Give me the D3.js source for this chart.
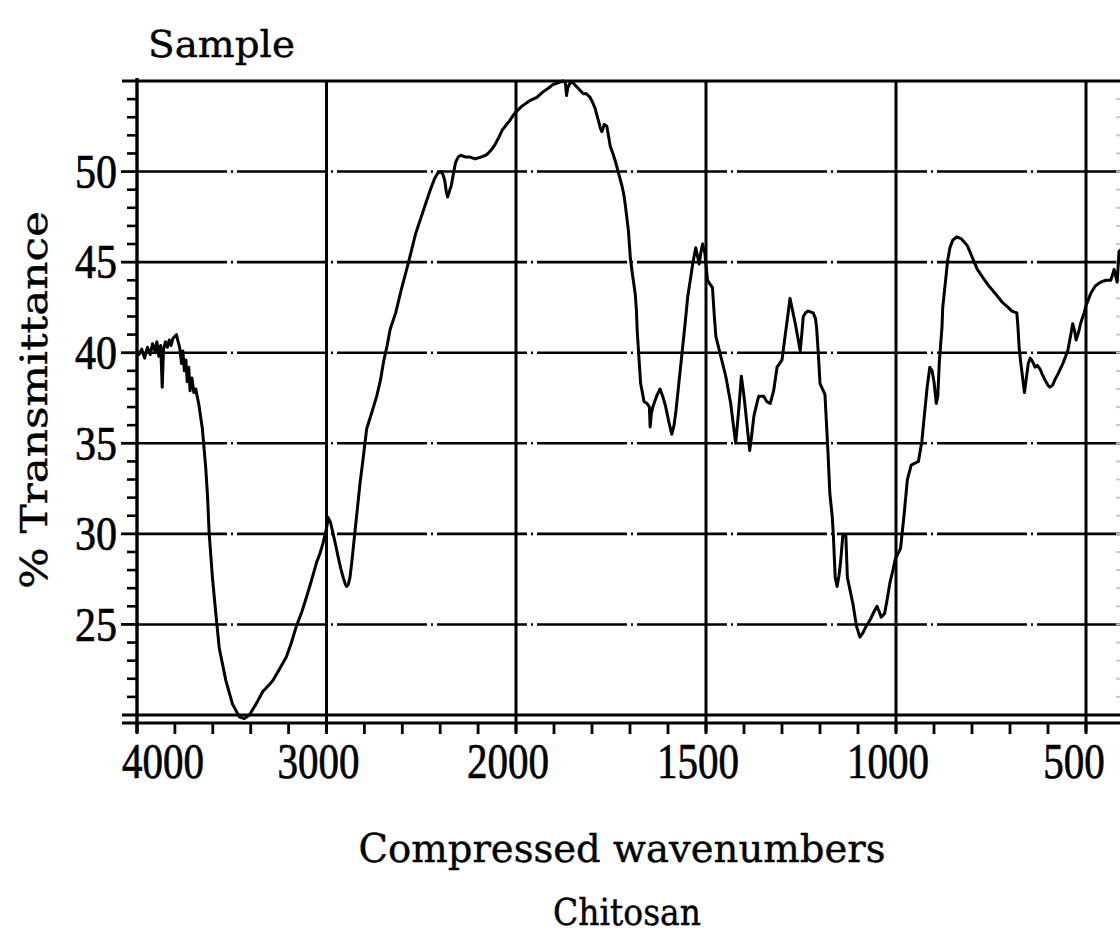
<!DOCTYPE html>
<html>
<head>
<meta charset="utf-8">
<script src="https://cdn.jsdelivr.net/npm/d3@7"></script>
<style>
  html, body { margin: 0; padding: 0; background: #fff; }
  svg { display: block; }
</style>
</head>
<body>
<div id="chart"></div>
<script>
// spectrum (cm-1, % transmittance)
const wavenumbers = [
  4000, 3990, 3975, 3960, 3945, 3930, 3918, 3905, 3895, 3885, 3875, 3867, 3860, 3850, 3840, 3830,
  3820, 3810, 3800, 3792, 3785, 3775, 3765, 3758, 3750, 3742, 3735, 3727, 3720, 3710, 3700, 3690,
  3673, 3655, 3637, 3628, 3619, 3602, 3584, 3566, 3531, 3496, 3460, 3434, 3407, 3372, 3336, 3300,
  3283, 3250, 3212, 3185, 3159, 3130, 3106, 3080, 3053, 3035, 3018, 3000, 2991, 2978, 2965, 2950,
  2938, 2925, 2912, 2900, 2894, 2885, 2876, 2867, 2858, 2841, 2823, 2805, 2788, 2761, 2735, 2715,
  2699, 2680, 2664, 2635, 2605, 2567, 2529, 2500, 2481, 2452, 2430, 2414, 2395, 2384, 2376, 2368,
  2361, 2352, 2342, 2330, 2319, 2305, 2291, 2265, 2243, 2215, 2186, 2160, 2148, 2130, 2110, 2090,
  2072, 2050, 2034, 2015, 2000, 1985, 1965, 1945, 1929, 1915, 1903, 1890, 1876, 1870, 1867, 1864,
  1858, 1850, 1841, 1832, 1823, 1815, 1805, 1798, 1792, 1787, 1783, 1778, 1774, 1768, 1761, 1756,
  1752, 1745, 1739, 1730, 1721, 1716, 1712, 1708, 1704, 1699, 1694, 1690, 1686, 1683, 1681, 1677,
  1672, 1663, 1655, 1649, 1647, 1644, 1640, 1630, 1621, 1614, 1607, 1598, 1590, 1584, 1579, 1570,
  1560, 1557, 1548, 1540, 1535, 1527, 1522, 1518, 1513, 1509, 1503, 1496, 1490, 1483, 1478, 1474,
  1461, 1448, 1435, 1428, 1422, 1414, 1407, 1400, 1396, 1390, 1385, 1380, 1374, 1365, 1361, 1348,
  1340, 1331, 1322, 1313, 1300, 1292, 1285, 1279, 1272, 1265, 1258, 1252, 1248, 1244, 1238, 1231,
  1218, 1212, 1209, 1204, 1200, 1187, 1183, 1179, 1174, 1168, 1165, 1160, 1155, 1150, 1146, 1140,
  1132, 1128, 1120, 1113, 1104, 1095, 1088, 1081, 1067, 1058, 1050, 1044, 1039, 1030, 1023, 1016,
  1008, 1002, 995, 988, 979, 970, 960, 950, 941, 932, 926, 918, 911, 905, 900, 894,
  890, 886, 879, 877, 870, 864, 858, 851, 840, 829, 820, 812, 800, 786, 770, 756,
  740, 721, 705, 695, 682, 679, 676, 672, 669, 662, 657, 652, 647, 643, 638, 634,
  628, 621, 615, 608, 600, 595, 588, 582, 572, 561, 548, 540, 535, 530, 526, 520,
  513, 505, 500, 487, 475, 461, 448, 435, 430, 426, 418, 413, 408
];
const transmittance = [
  40.0, 39.9, 40.2, 39.7, 40.3, 39.9, 40.5, 40.1, 40.6, 39.8, 40.4, 38.1, 40.2, 40.6, 40.3, 40.7,
  40.4, 40.8, 40.9, 41.0, 40.7, 40.3, 39.4, 40.1, 39.0, 39.6, 38.4, 39.2, 37.9, 38.6, 37.8, 38.0,
  37.1, 35.8, 33.6, 32.1, 30.0, 27.6, 25.6, 23.7, 21.9, 20.6, 19.9, 19.8, 20.0, 20.6, 21.3, 21.7,
  21.9, 22.5, 23.2, 24.0, 24.9, 25.7, 26.5, 27.4, 28.4, 28.9, 29.5, 30.3, 30.9, 30.6, 30.0, 29.3,
  28.7, 28.1, 27.6, 27.2, 27.1, 27.2, 27.6, 28.4, 29.3, 31.0, 32.8, 34.3, 35.8, 36.7, 37.6, 38.5,
  39.5, 40.4, 41.3, 42.2, 43.5, 45.0, 46.6, 47.5, 48.1, 49.0, 49.6, 49.9, 50.0, 49.8, 49.5, 48.9,
  48.6, 48.9, 49.2, 49.9, 50.5, 50.8, 50.9, 50.8, 50.8, 50.7, 50.8, 50.9, 51.0, 51.2, 51.5, 51.9,
  52.3, 52.6, 52.8, 53.1, 53.3, 53.6, 53.9, 54.1, 54.4, 54.6, 54.8, 54.9, 55.0, 54.9, 54.2, 54.6,
  54.9, 54.9, 54.7, 54.5, 54.3, 54.3, 54.1, 53.8, 53.5, 53.1, 52.8, 52.4, 52.2, 52.6, 52.5, 51.9,
  51.4, 51.0, 50.6, 49.9, 49.2, 48.7, 48.1, 47.4, 46.7, 45.2, 44.4, 43.8, 43.2, 42.3, 41.2, 39.9,
  38.3, 37.3, 37.2, 37.0, 35.9, 36.6, 37.0, 37.6, 38.0, 37.6, 37.1, 36.2, 35.5, 36.0, 36.8, 38.6,
  40.6, 41.2, 43.1, 44.2, 44.9, 45.8, 45.3, 44.9, 45.6, 46.0, 45.5, 44.0, 43.8, 43.6, 42.0, 40.9,
  39.8, 38.7, 37.2, 36.0, 35.0, 36.8, 38.7, 37.6, 36.8, 35.6, 34.6, 35.4, 36.5, 37.3, 37.6, 37.6,
  37.3, 37.2, 37.9, 39.2, 39.6, 40.9, 42.0, 43.0, 42.3, 41.6, 40.8, 40.1, 41.0, 42.0, 42.2, 42.3,
  42.2, 41.9, 41.4, 39.8, 38.3, 37.7, 36.1, 34.5, 32.2, 31.0, 30.0, 27.6, 27.1, 27.7, 28.4, 29.9,
  29.9, 27.6, 26.8, 26.1, 24.9, 24.3, 24.5, 24.8, 25.3, 25.7, 26.0, 25.7, 25.4, 25.6, 26.4, 27.3,
  28.0, 28.6, 28.9, 29.2, 31.0, 33.0, 33.8, 33.9, 34.0, 35.1, 36.4, 38.1, 39.2, 39.0, 38.4, 37.2,
  37.6, 39.5, 41.4, 42.5, 43.9, 45.1, 45.8, 46.2, 46.4, 46.3, 46.1, 45.9, 45.3, 44.6, 44.1, 43.7,
  43.3, 42.8, 42.5, 42.3, 42.2, 41.4, 40.3, 39.5, 39.0, 37.8, 38.6, 39.4, 39.7, 39.6, 39.4, 39.2,
  39.3, 39.1, 38.8, 38.5, 38.2, 38.1, 38.2, 38.5, 38.9, 39.4, 40.1, 41.0, 41.6, 41.2, 40.7, 41.1,
  41.7, 42.2, 42.6, 43.3, 43.7, 43.9, 44.0, 44.0, 44.3, 44.6, 43.9, 45.6, 45.7
];

// axis ticks
const xLabelTicks = [4000, 3000, 2000, 1500, 1000, 500];
const xGridTicks = [3000, 2000, 1500, 1000, 500];
const xMinorTicks = [4000, 3800, 3600, 3400, 3200, 3000, 2800, 2600, 2400, 2200, 2000,
  1900, 1800, 1700, 1600, 1500, 1400, 1300, 1200, 1100, 1000, 900, 800, 700, 600, 500, 400];
const yLabelTicks = [25, 30, 35, 40, 45, 50];
const yMinorTicks = [21, 22, 23, 24, 26, 27, 28, 29, 31, 32, 33, 34, 36, 37, 38, 39,
  41, 42, 43, 44, 46, 47, 48, 49, 51, 52, 53, 54];

function drawSpectrum(selector) {
  const W = 1120, H = 944;
  const left = 137, right = 1124, top = 81, bottom = 715;
  const digitFont = "'Liberation Serif', 'Times New Roman', serif";
  const wordFont = "'DejaVu Serif', 'Liberation Serif', serif";

  let svg = d3.select(selector).append("svg")
    .attr("width", W)
    .attr("height", H);

  // compressed axis: 4000-2000 at half the scale of 2000-400
  let x = d3.scaleLinear().domain([4000, 2000, 400]).range([left, 516, right]);
  let y = d3.scaleLinear().domain([20, 55]).range([bottom, top]);

  // horizontal grid (mostly solid, a few plotter breaks)
  svg.append("g")
    .selectAll("line")
    .data(yLabelTicks)
    .enter()
    .append("line")
    .attr("x1", left).attr("x2", W)
    .attr("y1", d => y(d)).attr("y2", d => y(d))
    .attr("stroke", "#000")
    .attr("stroke-width", 2.6)
    .attr("stroke-dasharray", "90,4,2,4");

  // frame top and bottom
  svg.append("g")
    .selectAll("line")
    .data([20, 55])
    .enter()
    .append("line")
    .attr("x1", left - 15).attr("x2", W)
    .attr("y1", d => y(d)).attr("y2", d => y(d))
    .attr("stroke", "#000")
    .attr("stroke-width", 3);

  // vertical grid
  svg.append("g")
    .selectAll("line")
    .data(xGridTicks)
    .enter()
    .append("line")
    .attr("x1", d => x(d)).attr("x2", d => x(d))
    .attr("y1", top).attr("y2", bottom + 17)
    .attr("stroke", "#000")
    .attr("stroke-width", 3);

  // y axis with minor ticks
  let yAxis = svg.append("g").attr("transform", "translate(" + left + ",0)");
  yAxis.append("line")
    .attr("x1", 0).attr("x2", 0)
    .attr("y1", top - 3).attr("y2", bottom + 18)
    .attr("stroke", "#000").attr("stroke-width", 3.4);
  yAxis.selectAll(".minor")
    .data(yMinorTicks)
    .enter()
    .append("line")
    .attr("class", "minor")
    .attr("x1", -10).attr("x2", 0)
    .attr("y1", d => y(d)).attr("y2", d => y(d))
    .attr("stroke", "#000").attr("stroke-width", 2.6);
  yAxis.selectAll(".major")
    .data(yLabelTicks)
    .enter()
    .append("line")
    .attr("class", "major")
    .attr("x1", -16).attr("x2", 0)
    .attr("y1", d => y(d)).attr("y2", d => y(d))
    .attr("stroke", "#000").attr("stroke-width", 2.8);
  yAxis.selectAll("text")
    .data(yLabelTicks)
    .enter()
    .append("text")
    .attr("x", -20)
    .attr("y", d => y(d))
    .attr("dy", "0.34em")
    .attr("text-anchor", "end")
    .attr("font-family", digitFont)
    .attr("font-size", 48)
    .attr("stroke", "#000")
    .attr("stroke-width", 0.7)
    .attr("textLength", 42)
    .attr("lengthAdjust", "spacingAndGlyphs")
    .text(d => d);

  // x axis line under the frame, ticks pointing down
  let axisY = bottom + 8;
  let xAxis = svg.append("g").attr("transform", "translate(0," + axisY + ")");
  xAxis.append("line")
    .attr("x1", left - 15).attr("x2", W)
    .attr("y1", 0).attr("y2", 0)
    .attr("stroke", "#000").attr("stroke-width", 2.8);
  xAxis.selectAll(".tick")
    .data(xMinorTicks)
    .enter()
    .append("line")
    .attr("class", "tick")
    .attr("x1", d => x(d)).attr("x2", d => x(d))
    .attr("y1", 0).attr("y2", 11)
    .attr("stroke", "#000").attr("stroke-width", 2.8);
  // 4000 sits right of its tick, 500 is pulled in from the cut edge
  xAxis.selectAll("text")
    .data(xLabelTicks)
    .enter()
    .append("text")
    .attr("x", d => d === 4000 ? x(d) - 15 : (d === 500 ? x(d) - 12 : x(d) - 8))
    .attr("y", 55)
    .attr("text-anchor", d => d === 4000 ? "start" : "middle")
    .attr("font-family", digitFont)
    .attr("font-size", 50)
    .attr("stroke", "#000")
    .attr("stroke-width", 0.7)
    .attr("textLength", d => String(d).length * 20.5)
    .attr("lengthAdjust", "spacingAndGlyphs")
    .text(d => d);

  // faint right-hand axis ticks at the cut edge
  svg.append("g")
    .selectAll("line")
    .data(yMinorTicks.concat(yLabelTicks))
    .enter()
    .append("line")
    .attr("x1", W - 4).attr("x2", W)
    .attr("y1", d => y(d)).attr("y2", d => y(d))
    .attr("stroke", "#c8c8c8").attr("stroke-width", 2);

  // the spectrum
  let points = wavenumbers.map((w, i) => [w, transmittance[i]]);
  let line = d3.line()
    .x(d => x(d[0]))
    .y(d => y(d[1]));
  svg.append("path")
    .datum(points)
    .attr("d", line)
    .attr("fill", "none")
    .attr("stroke", "#000")
    .attr("stroke-width", 3)
    .attr("stroke-linejoin", "round");

  // titles
  let words = [
    { text: "Sample", x: 148, y: 57, size: 37, len: 147, anchor: "start", rot: false },
    { text: "% Transmittance", x: 47, y: 400, size: 38, len: 378, anchor: "middle", rot: true },
    { text: "Compressed wavenumbers", x: 622, y: 862, size: 39, len: 527, anchor: "middle", rot: false },
    { text: "Chitosan", x: 627, y: 925, size: 38, len: 148, anchor: "middle", rot: false }
  ];
  svg.append("g")
    .selectAll("text")
    .data(words)
    .enter()
    .append("text")
    .attr("transform", d => "translate(" + d.x + "," + d.y + ")" + (d.rot ? " rotate(-90)" : ""))
    .attr("text-anchor", d => d.anchor)
    .attr("font-family", wordFont)
    .attr("font-size", d => d.size)
    .attr("stroke", "#000")
    .attr("stroke-width", 0.4)
    .attr("textLength", d => d.len)
    .attr("lengthAdjust", "spacingAndGlyphs")
    .text(d => d.text);
}

drawSpectrum("#chart");
</script>
</body>
</html>
